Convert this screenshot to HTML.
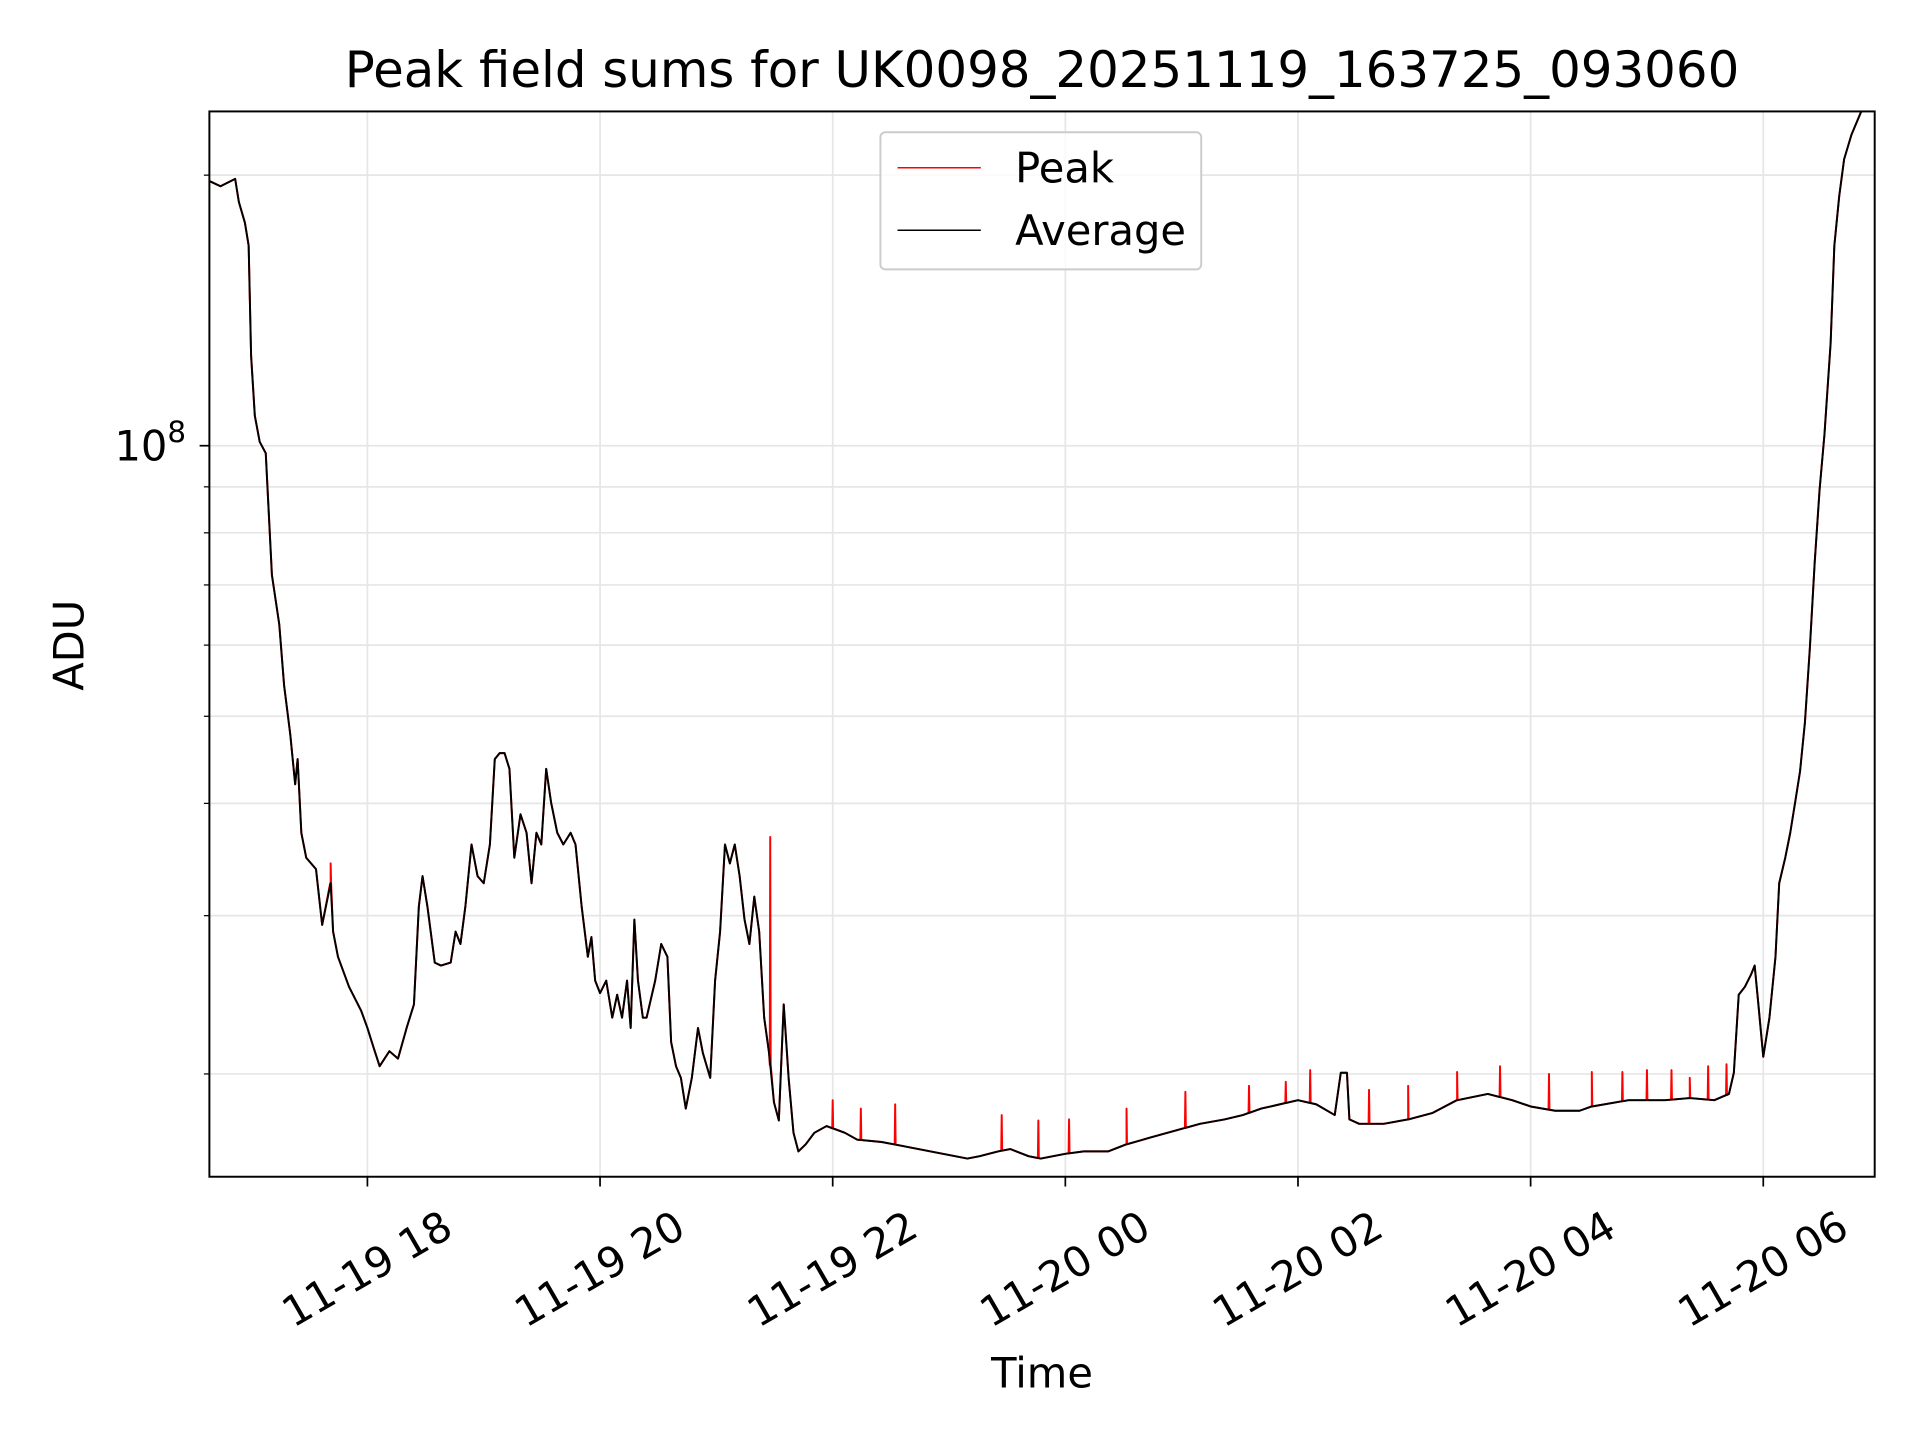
<!DOCTYPE html>
<html><head><meta charset="utf-8"><style>html,body{margin:0;padding:0;background:#fff}svg{display:block}</style></head>
<body>
<svg id="chart" xmlns="http://www.w3.org/2000/svg" width="1920" height="1440" viewBox="0 0 1568 1176" font-family="DejaVu Sans, Liberation Sans, sans-serif">
<rect width="1568" height="1176" fill="#fff"/>
<g id="grid"></g>
<g id="series"></g>
<rect x="171" y="91" width="1360" height="870" fill="none" stroke="#000" stroke-width="1.6"/>
<g id="axes"></g>
<text x="851" y="71" text-anchor="middle" font-size="40.7">Peak field sums for UK0098_20251119_163725_093060</text>
<text transform="translate(68,527) rotate(-90)" text-anchor="middle" font-size="34">ADU</text>
<text x="851" y="1133" text-anchor="middle" font-size="34">Time</text>
<g>
<rect x="719" y="108" width="262" height="112" rx="4" fill="#fff" fill-opacity="0.8" stroke="#ccc" stroke-width="1.6"/>
<line x1="733" y1="137" x2="801" y2="137" stroke="#f00" stroke-width="1.2"/>
<text x="829" y="149" font-size="34">Peak</text>
<line x1="733" y1="188" x2="801" y2="188" stroke="#000" stroke-width="1.2"/>
<text x="829" y="200" font-size="34">Average</text>
</g>
</svg>
<script>
// times in hours since 2025-11-19 00:00; values in millions of ADU
const avgTimes = [16.642,16.737,16.863,16.895,16.947,16.979,17.0,17.032,17.074,17.126,17.179,17.242,17.284,17.337,17.379,17.4,17.432,17.474,17.558,17.611,17.684,17.705,17.747,17.842,17.947,18.0,18.053,18.105,18.189,18.263,18.337,18.4,18.442,18.474,18.516,18.579,18.632,18.716,18.758,18.8,18.842,18.895,18.947,19.0,19.053,19.095,19.137,19.179,19.221,19.263,19.316,19.368,19.411,19.453,19.495,19.537,19.579,19.632,19.684,19.747,19.789,19.842,19.895,19.926,19.958,20.0,20.053,20.105,20.147,20.189,20.232,20.263,20.295,20.326,20.368,20.4,20.474,20.526,20.579,20.611,20.653,20.695,20.737,20.789,20.842,20.884,20.947,20.989,21.032,21.074,21.116,21.158,21.2,21.242,21.284,21.326,21.368,21.411,21.453,21.495,21.537,21.579,21.621,21.663,21.705,21.768,21.842,21.947,22.105,22.211,22.421,22.632,22.842,23.158,23.263,23.421,23.526,23.684,23.789,24.0,24.158,24.368,24.526,24.737,24.947,25.158,25.368,25.526,25.684,25.842,26.0,26.158,26.316,26.368,26.421,26.442,26.526,26.737,26.947,27.158,27.368,27.632,27.842,28.0,28.211,28.421,28.526,28.842,29.158,29.368,29.579,29.705,29.747,29.789,29.842,29.895,29.926,29.958,30.0,30.053,30.105,30.137,30.189,30.232,30.274,30.316,30.358,30.4,30.442,30.484,30.526,30.579,30.611,30.653,30.695,30.758,30.842];
const avgValues = [197,194.4,198.1,186.7,177,167,126,108,101,98.1,71.8,63.3,54.1,47.7,42.0,44.8,37.1,34.8,33.8,29.3,32.6,28.8,27.0,25.0,23.5,22.5,21.4,20.4,21.2,20.8,22.5,23.9,30.7,33.2,30.7,26.6,26.4,26.6,28.8,27.9,30.7,36.0,33.2,32.6,36.0,44.8,45.5,45.5,43.7,34.8,38.9,37.1,32.6,37.1,36.0,43.7,40.1,37.1,36.0,37.1,36.0,30.7,27.0,28.4,25.4,24.6,25.4,23.1,24.5,23.1,25.4,22.5,29.7,25.4,23.1,23.1,25.4,27.9,27.0,21.7,20.4,19.8,18.3,19.8,22.5,21.1,19.8,25.4,28.8,36.0,34.3,36.0,33.2,29.7,27.9,31.5,28.8,23.1,21.1,18.6,17.75,23.9,19.8,17.2,16.4,16.7,17.2,17.5,17.2,16.9,16.8,16.6,16.4,16.1,16.2,16.4,16.5,16.2,16.1,16.3,16.4,16.4,16.7,17.0,17.3,17.6,17.8,18.0,18.3,18.5,18.7,18.5,18.0,20.06,20.06,17.8,17.6,17.6,17.8,18.1,18.7,19.0,18.7,18.4,18.2,18.2,18.4,18.7,18.7,18.8,18.7,19.0,20.06,24.5,25.0,25.8,26.4,23.9,20.9,23.1,27.0,32.6,34.8,37.1,40.1,43.4,49.2,59.4,74.1,89.3,102.9,130.1,167,189.6,208.3,221.8,235.4];
const spikeTimes = [17.684,21.463,22.0,22.242,22.537,23.453,23.768,24.032,24.526,25.032,25.579,25.895,26.105,26.611,26.947,27.368,27.737,28.158,28.526,28.789,29.0,29.211,29.368,29.526,29.684];
const spikeValues = [34.3,36.7,18.7,18.3,18.5,18.0,17.75,17.8,18.3,19.1,19.4,19.6,20.2,19.2,19.4,20.1,20.4,20.0,20.1,20.1,20.2,20.2,19.8,20.4,20.5];
const xTickHours = [18,20,22,24,26,28,30];
const xTickLabels = ["11-19 18","11-19 20","11-19 22","11-20 00","11-20 02","11-20 04","11-20 06"];
const yMinorValues = [20,30,40,50,60,70,80,90,200];

const NS="http://www.w3.org/2000/svg";
const L=171,R=1531,T=91,B=961;
const X0=16.6415,X1=30.9579;
const LOG_TOP=8.37193,LOG_BOT=7.18665;
function xs(h){return L+(h-X0)/(X1-X0)*(R-L);}
function ys(vM){const lg=Math.log10(vM*1e6);return T+(LOG_TOP-lg)/(LOG_TOP-LOG_BOT)*(B-T);}
function mk(tag,attrs,parent){const e=document.createElementNS(NS,tag);for(const k in attrs)e.setAttribute(k,attrs[k]);parent.appendChild(e);return e;}
const grid=document.getElementById('grid'),axes=document.getElementById('axes'),series=document.getElementById('series');

xTickHours.forEach((h,i)=>{
  const x=xs(h);
  const g=mk('line',{x1:x,y1:T,x2:x,y2:B,stroke:'#e6e6e6','stroke-width':1.4},grid);
  
  
  const t=mk('line',{x1:x,y1:B,x2:x,y2:B+8,stroke:'#000','stroke-width':1.4},axes);
  
  
  const lbl=mk('text',{x:0,y:0,'text-anchor':'middle','font-size':34,transform:`translate(${x},${B+76}) rotate(-30) translate(0,11)`},axes);
  lbl.textContent=xTickLabels[i];
  
  
});
[100].concat(yMinorValues).forEach(v=>{
  const y=ys(v);
  const g=mk('line',{x1:L,y1:y,x2:R,y2:y,stroke:'#e6e6e6','stroke-width':1.4},grid);
  
  
  const major=v===100;
  const t=mk('line',{x1:L-(major?8:4.5),y1:y,x2:L,y2:y,stroke:'#000','stroke-width':major?1.4:1},axes);
  
  
});
const yl=mk('text',{x:152,y:ys(100)+12,'text-anchor':'end','font-size':34},axes);
yl.innerHTML='10<tspan dy="-15" font-size="24">8</tspan>';



const defs=mk('defs',{},series);
const cp=mk('clipPath',{id:'clip'},defs);
mk('rect',{x:L,y:T,width:R-L,height:B-T},cp);

function avgAt(h){for(let i=1;i<avgTimes.length;i++){if(avgTimes[i]>=h){const f=(h-avgTimes[i-1])/(avgTimes[i]-avgTimes[i-1]);return Math.exp(Math.log(avgValues[i-1])*(1-f)+Math.log(avgValues[i])*f);}}return avgValues[avgValues.length-1];}
let pk=avgTimes.map((t,i)=>[t,avgValues[i]]);
spikeTimes.forEach((t,i)=>{const a=avgAt(t);pk.push([t-0.004,a],[t,spikeValues[i]],[t+0.004,a]);});
pk.sort((a,b)=>a[0]-b[0]);
const peakPath=mk('path',{d:'M'+pk.map(p=>xs(p[0]).toFixed(2)+','+ys(p[1]).toFixed(2)).join('L'),fill:'none',stroke:'#f00','stroke-width':1.6,'clip-path':'url(#clip)','stroke-linejoin':'round'},series);


const avgPath=mk('path',{d:'M'+avgTimes.map((t,i)=>xs(t).toFixed(2)+','+ys(avgValues[i]).toFixed(2)).join('L'),fill:'none',stroke:'#000','stroke-width':1.6,'clip-path':'url(#clip)','stroke-linejoin':'round'},series);


</script>
</body></html>
